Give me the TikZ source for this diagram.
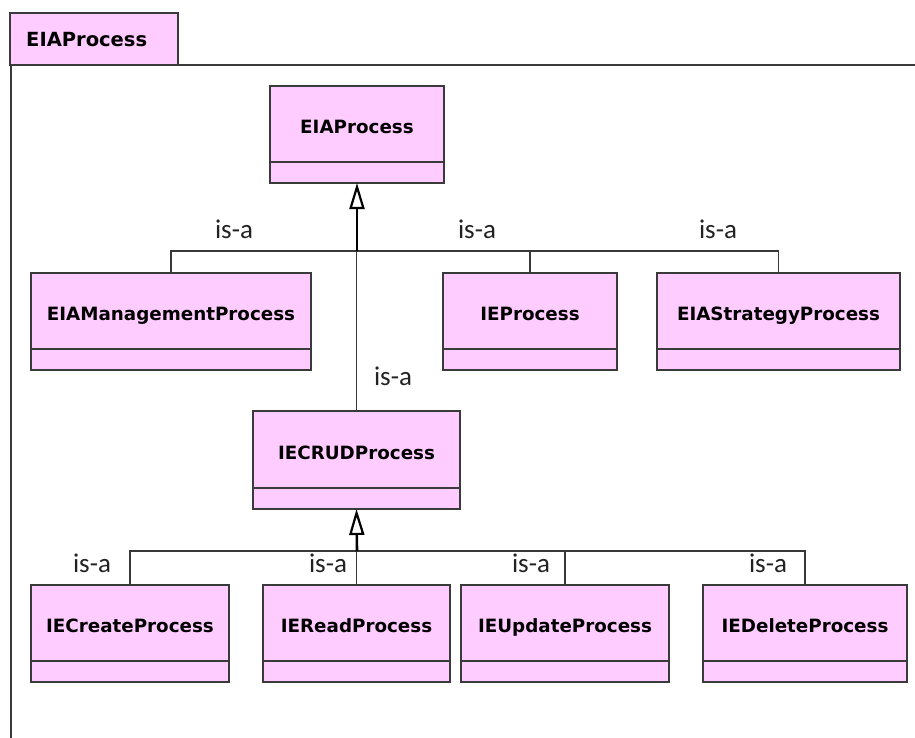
\documentclass[tikz,border=0pt]{standalone}
\usepackage{fontspec}
\usetikzlibrary{arrows.meta}
\newfontfamily\classfont{DejaVu Sans}
\newfontfamily\labelfont{Carlito}
\definecolor{classfill}{RGB}{255,204,255}
\definecolor{edgegray}{RGB}{58,58,58}
\definecolor{linegray}{RGB}{56,56,56}
\definecolor{labelink}{RGB}{34,34,34}

\tikzset{
  namepart/.style={draw=edgegray, line width=1.8pt, fill=classfill, inner sep=0pt,
    outer sep=0pt, anchor=north west, text height=19pt, text depth=0pt,
    font=\classfont\bfseries\fontsize{18.3}{21}\selectfont},
  attrpart/.style={draw=edgegray, line width=1.8pt, fill=classfill, inner sep=0pt,
    outer sep=0pt, anchor=north west},
  conn/.style={draw=linegray, line width=1.9pt},
  inherit/.style={draw=black, line width=2.6pt,
    -{Triangle[open, width=15pt, length=26pt, line width=2.2pt]}},
  isa/.style={font=\labelfont\fontsize{27}{30}\selectfont, text=labelink, inner sep=0pt},
}

% class box: name compartment plus an empty attribute compartment below it
% #1 node name, #2 x, #3 y, #4 width, #5 name height, #6 attr height, #7 text
\newcommand\umlclassbox[7]{%
  \node[namepart, minimum width=#4pt, minimum height=#5pt] (#1) at (#2,#3) {#7};
  \node[attrpart, minimum width=#4pt, minimum height=#6pt] (#1-attr) at (#1.south west) {};
}

\begin{document}
\begin{tikzpicture}[x=1pt, y=-1pt]
  \useasboundingbox (0,0) rectangle (915,738);

  % package frame with its tab
  \draw[draw=edgegray, line width=1.6pt, fill=classfill] (10,13) rectangle (178,65);
  \node[anchor=west, inner sep=0pt, font=\classfont\bfseries\fontsize{19.5}{22}\selectfont]
    (pkgname) at (26,40) {EIAProcess};
  \draw[draw=edgegray, line width=1.6pt] (915,65) -- (11,65) -- (11,740);

  % classes
  \umlclassbox{top}{270}{86}{174}{76}{21}{EIAProcess}
  \umlclassbox{mgmt}{31}{273}{280}{76}{21}{EIAManagementProcess}
  \umlclassbox{ieproc}{443}{273}{174}{76}{21}{IEProcess}
  \umlclassbox{strat}{657}{273}{243}{76}{21}{EIAStrategyProcess}
  \umlclassbox{crud}{253}{411}{207}{77}{21}{IECRUDProcess}
  \umlclassbox{create}{31}{585}{198}{76}{21}{IECreateProcess}
  \umlclassbox{read}{263}{585}{187}{76}{21}{IEReadProcess}
  \umlclassbox{update}{461}{585}{208}{76}{21}{IEUpdateProcess}
  \umlclassbox{delete}{703}{585}{204}{76}{21}{IEDeleteProcess}

  % generalisations towards EIAProcess
  \coordinate (busA) at (357,251);
  \draw[conn] (mgmt.north) |- (busA) -| (strat.north);
  \draw[conn] (ieproc.north) -- (ieproc.north |- busA);
  \draw[conn] (crud.north) -- (crud.north |- busA);
  \draw[inherit] (busA) -- (top-attr.south);

  % generalisations towards IECRUDProcess
  \coordinate (busB) at (357,551);
  \draw[conn] (create.north) |- (busB) -| (delete.north);
  \draw[conn] (read.north) -- (read.north |- busB);
  \draw[conn] (update.north) -- (update.north |- busB);
  \draw[inherit] (busB) -- (crud-attr.south);

  % association labels
  \node[isa] (l1) at (234,229) {is-a};
  \node[isa] (l2) at (477,229) {is-a};
  \node[isa] (l3) at (718,229) {is-a};
  \node[isa] (l4) at (393,376) {is-a};
  \node[isa] (l5) at (92,563) {is-a};
  \node[isa] (l6) at (328,563) {is-a};
  \node[isa] (l7) at (531,563) {is-a};
  \node[isa] (l8) at (768,563) {is-a};
\end{tikzpicture}
\end{document}
